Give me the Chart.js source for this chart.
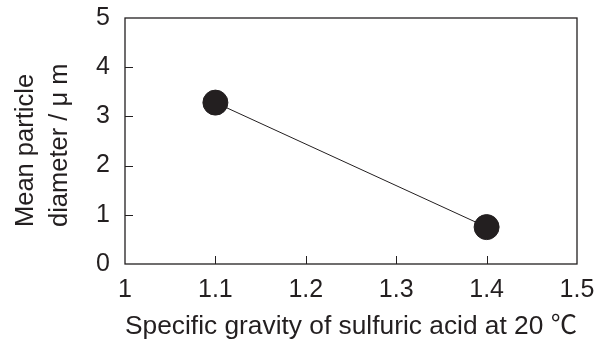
<!DOCTYPE html>
<html>
<head>
<meta charset="utf-8">
<script src="https://cdn.jsdelivr.net/npm/chart.js@4/dist/chart.umd.min.js"></script>
<style>
html,body{margin:0;padding:0;background:#fff;}
#wrap{width:604px;height:345px;}
</style>
</head>
<body>
<div id="wrap"><canvas id="c" width="604" height="345"></canvas></div>
<script>
// ---- data ----
const specificGravity = [1.1, 1.4];
const meanDiameter = [3.28, 0.75];
const xTickValues = [1, 1.1, 1.2, 1.3, 1.4, 1.5];
const xTickLabels = ['1', '1.1', '1.2', '1.3', '1.4', '1.5'];
const yTickValues = [0, 1, 2, 3, 4, 5];
const yTickLabels = ['0', '1', '2', '3', '4', '5'];
const xTitle = 'Specific gravity of sulfuric acid at 20 \u2103';
const yTitle = ['Mean particle', 'diameter / \u03bc m'];

const ink = '#231f20';
const FONT = 'Arial, "Liberation Sans", "Noto Sans CJK JP", sans-serif';

const frame = {
  id: 'frame',
  afterDatasetsDraw(chart) {
    const {ctx, chartArea: a, scales} = chart;
    ctx.save();
    ctx.strokeStyle = ink;
    ctx.lineWidth = 1.3;
    ctx.strokeRect(a.left, a.top, a.right - a.left, a.bottom - a.top);
    ctx.lineWidth = 1;
    const L = 8;
    ctx.beginPath();
    xTickValues.slice(1, -1).forEach(v => {
      const x = Math.round(scales.x.getPixelForValue(v)) + 0.5;
      ctx.moveTo(x, a.bottom); ctx.lineTo(x, a.bottom - L);
    });
    yTickValues.slice(1, -1).forEach(v => {
      const y = Math.round(scales.y.getPixelForValue(v)) + 0.5;
      ctx.moveTo(a.left, y); ctx.lineTo(a.left + L, y);
    });
    ctx.stroke();
    ctx.restore();
  }
};

// y-axis title: two rotated lines, start-aligned near the lower part of the axis
const yTitlePlugin = {
  id: 'yTitle',
  afterDraw(chart) {
    const {ctx} = chart;
    const baselines = [33, 67];
    const startY = 227;
    ctx.save();
    ctx.fillStyle = ink;
    ctx.font = '25.5px ' + FONT;
    ctx.textAlign = 'left';
    ctx.textBaseline = 'alphabetic';
    yTitle.forEach((t, i) => {
      ctx.save();
      ctx.translate(baselines[i], startY);
      ctx.rotate(-Math.PI / 2);
      ctx.fillText(t, 0, 0);
      ctx.restore();
    });
    ctx.restore();
  }
};

new Chart(document.getElementById('c'), {
  type: 'scatter',
  data: {
    datasets: [{
      data: specificGravity.map((x, i) => ({x, y: meanDiameter[i]})),
      showLine: true,
      borderColor: ink,
      borderWidth: 1,
      backgroundColor: ink,
      pointBackgroundColor: ink,
      pointBorderColor: ink,
      pointRadius: 12.5,
      pointHoverRadius: 12.5
    }]
  },
  plugins: [frame, yTitlePlugin],
  options: {
    responsive: false,
    animation: false,
    events: [],
    layout: {padding: {top: 18, right: 27, left: 0, bottom: 0}},
    plugins: {legend: {display: false}, tooltip: {enabled: false}},
    scales: {
      x: {
        type: 'linear', min: 1, max: 1.5,
        afterBuildTicks(s) { s.ticks = xTickValues.map(v => ({value: v})); },
        afterFit(s) { s.height = 81; s.paddingLeft = 0; s.paddingRight = 0; },
        grid: {display: false, drawTicks: false},
        border: {display: false},
        ticks: {
          color: ink, padding: 11, maxRotation: 0, autoSkip: false,
          font: {family: FONT, size: 25},
          callback: (v) => { const i = xTickValues.findIndex(t => Math.abs(t - v) < 1e-9); return i >= 0 ? xTickLabels[i] : ''; }
        },
        title: {display: true, text: xTitle, color: ink, padding: {top: 0, bottom: 2}, font: {family: FONT, size: 26.5}}
      },
      y: {
        type: 'linear', min: 0, max: 5,
        afterBuildTicks(s) { s.ticks = yTickValues.map(v => ({value: v})); },
        afterFit(s) { s.width = 125; s.paddingTop = 0; s.paddingBottom = 0; },
        grid: {display: false, drawTicks: false},
        border: {display: false},
        ticks: {
          color: ink, padding: 15,
          font: {family: FONT, size: 25},
          callback: (v) => { const i = yTickValues.indexOf(v); return i >= 0 ? yTickLabels[i] : ''; }
        },
        title: {display: false}
      }
    }
  }
});
</script>
</body>
</html>
